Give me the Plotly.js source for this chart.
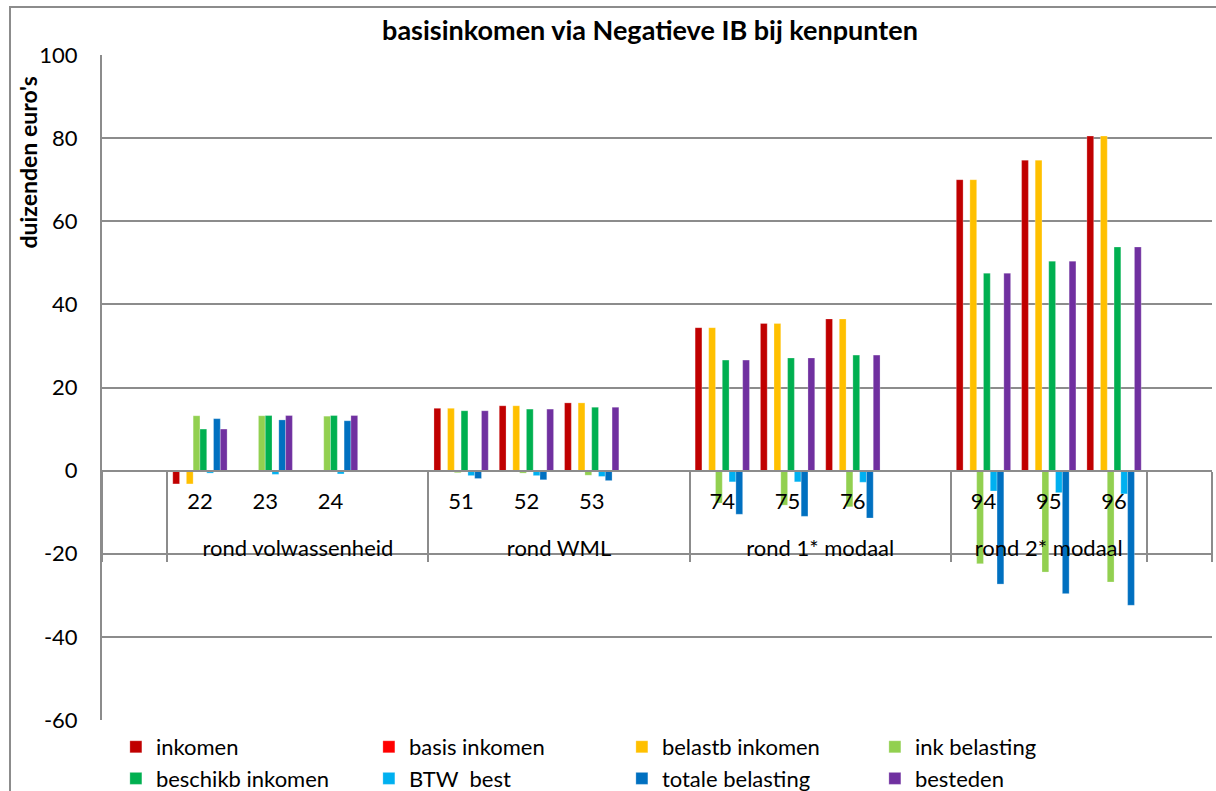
<!DOCTYPE html>
<html>
<head>
<meta charset="utf-8">
<script src="https://cdn.plot.ly/plotly-3.0.1.min.js"></script>
<style>
  html, body { margin:0; padding:0; background:#fff; overflow:hidden; }
  #chart { width:1216px; height:791px; position:absolute; left:0; top:0; }
  #frame { position:absolute; left:9px; top:6px; width:1400px; height:1000px;
           border-left:2px solid #8c8c8c; border-top:2px solid #8c8c8c; pointer-events:none; z-index:5; }
</style>
</head>
<body>
<div id="chart"></div>
<div id="frame"></div>
<script>
// group (first level) and category (second level) labels; blank slots as in the source chart
const groups = [" ",
  "rond volwassenheid", "rond volwassenheid", "rond volwassenheid", "rond volwassenheid",
  "rond WML", "rond WML", "rond WML", "rond WML",
  "rond 1* modaal", "rond 1* modaal", "rond 1* modaal", "rond 1* modaal",
  "rond 2* modaal", "rond 2* modaal", "rond 2* modaal",
  "  "];
const categories = [" ",
  "22", "23", "24", "  ",
  "51", "52", "53", "   ",
  "74", "75", "76", "    ",
  "94", "95", "96",
  "     "];

const inkomen          = [null, -3.2, 0, 0, null, 15.0, 15.6, 16.3, null, 34.4, 35.4, 36.5, null, 70.0, 74.7, 80.5, null];
const basisInkomen     = [null, 0, 0, 0, null, 0, 0, 0, null, 0, 0, 0, null, 0, 0, 0, null];
const belastbInkomen   = [null, -3.2, 0, 0, null, 15.0, 15.6, 16.3, null, 34.4, 35.4, 36.5, null, 70.0, 74.7, 80.5, null];
const inkBelasting     = [null, 13.2, 13.2, 13.1, null, -0.5, -0.6, -1.1, null, -7.8, -8.3, -8.7, null, -22.4, -24.4, -26.8, null];
const beschikbInkomen  = [null, 10.0, 13.25, 13.25, null, 14.4, 14.8, 15.25, null, 26.6, 27.1, 27.8, null, 47.5, 50.4, 53.8, null];
const btwBest          = [null, -0.6, -0.9, -0.8, null, -1.2, -1.2, -1.4, null, -2.7, -2.7, -2.8, null, -4.9, -5.3, -5.6, null];
const totaleBelasting  = [null, 12.5, 12.2, 12.0, null, -1.9, -2.2, -2.4, null, -10.5, -11.0, -11.4, null, -27.3, -29.6, -32.4, null];
const besteden         = [null, 10.0, 13.25, 13.25, null, 14.4, 14.8, 15.25, null, 26.6, 27.1, 27.8, null, 47.5, 50.4, 53.8, null];

const seriesNames = ["inkomen", "basis inkomen", "belastb inkomen", "ink belasting",
                     "beschikb inkomen", "BTW  best", "totale belasting", "besteden"];
const seriesValues = [inkomen, basisInkomen, belastbInkomen, inkBelasting,
                      beschikbInkomen, btwBest, totaleBelasting, besteden];
const seriesColors = ["#C00000", "#FF0000", "#FFC000", "#92D050",
                      "#00B050", "#00B0F0", "#0070C0", "#7030A0"];

const yTickVals = [-60, -40, -20, 0, 20, 40, 60, 80, 100];
const yTickText = ["-60", "-40", "-20", "0", "20", "40", "60", "80", "100"];
const yRange = [-60, 100];
const FONT = "Lato, 'Liberation Sans', sans-serif";

// second label line leaves room between the number row and the group row
const categoryLabels = categories.map(c => c + '<br>\u00a0');

const traces = seriesNames.map((n, i) => ({
  type: 'bar',
  name: n,
  x: [groups, categoryLabels],
  y: seriesValues[i],
  marker: { color: seriesColors[i], line: { color: 'rgba(255,255,255,0.5)', width: 0.5 } },
  hoverinfo: 'skip'
}));

const layout = {
  width: 1216, height: 791,
  paper_bgcolor: '#ffffff', plot_bgcolor: 'rgba(0,0,0,0)',
  font: { family: FONT, size: 22, color: '#000000' },
  margin: { l: 102, r: 4, t: 55, b: 71, autoexpand: false },
  title: {
    text: '<b>basisinkomen via Negatieve IB bij kenpunten</b>',
    font: { family: FONT, size: 27, color: '#000000' },
    xref: 'container', x: 650 / 1216, xanchor: 'center',
    yref: 'container', y: 1 - 31 / 791, yanchor: 'middle'
  },
  barmode: 'group',
  bargap: 0.168,
  bargroupgap: 0,
  showlegend: true,
  legend: {
    orientation: 'h',
    x: 0.0125, xanchor: 'left',
    y: -0.009, yanchor: 'top',
    entrywidth: 208, entrywidthmode: 'pixels',
    font: { family: FONT, size: 22, color: '#000000' },
    traceorder: 'normal',
    bgcolor: 'rgba(0,0,0,0)'
  },
  xaxis: {
    type: 'multicategory',
    anchor: 'free',
    position: (0 - yRange[0]) / (yRange[1] - yRange[0]),
    showline: true, linecolor: '#8c8c8c', linewidth: 2,
    showdividers: true, dividercolor: '#8c8c8c', dividerwidth: 2,
    ticks: '', showgrid: false, zeroline: false,
    ticklabelstandoff: 11,
    tickfont: { family: FONT, size: 22, color: '#000000' },
    automargin: false,
    fixedrange: true
  },
  yaxis: {
    range: yRange,
    tickmode: 'array', tickvals: yTickVals, ticktext: yTickText,
    showgrid: true, gridcolor: '#8c8c8c', gridwidth: 2,
    showline: true, linecolor: '#8c8c8c', linewidth: 2,
    zeroline: false, ticks: '',
    ticklabelstandoff: 18,
    tickfont: { family: FONT, size: 22, color: '#000000' },
    automargin: false,
    fixedrange: true
  },
  annotations: [{
    text: "<b>duizenden euro's</b>",
    textangle: -90,
    xref: 'paper', x: (27.5 - 102) / 1110, xanchor: 'center',
    yref: 'paper', y: (720 - 163) / 665, yanchor: 'middle',
    showarrow: false,
    font: { family: FONT, size: 23, color: '#000000' }
  }]
};

Plotly.newPlot('chart', traces, layout, { staticPlot: true, displayModeBar: false });
</script>
</body>
</html>
